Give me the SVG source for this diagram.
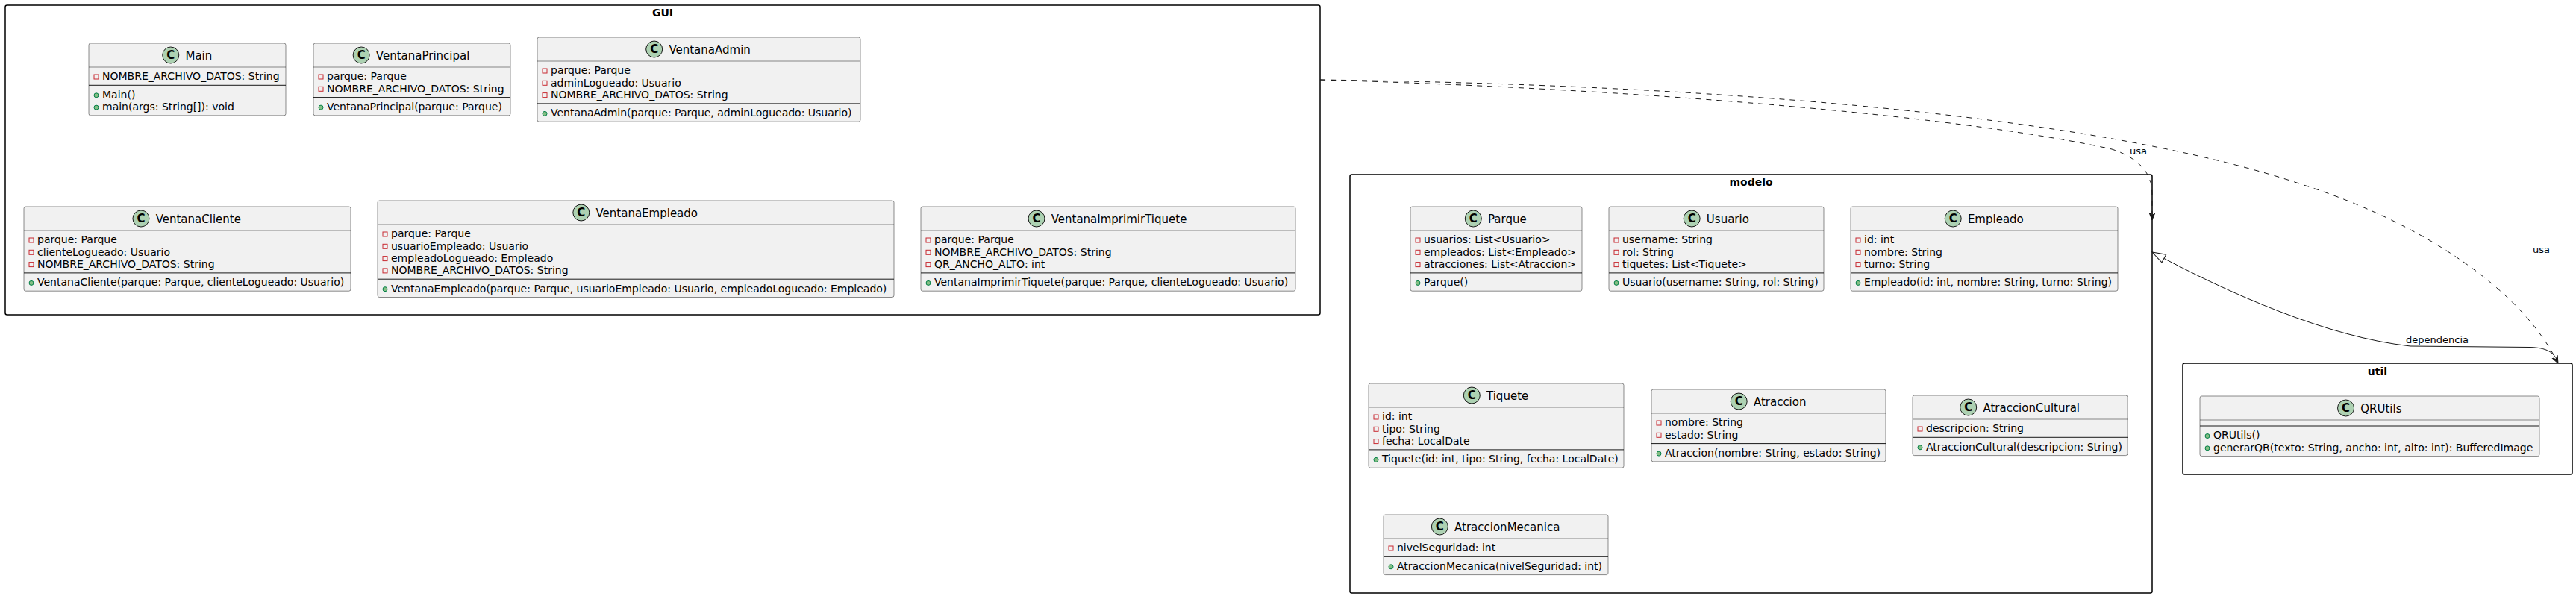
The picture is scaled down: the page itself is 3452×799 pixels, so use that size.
<svg xmlns="http://www.w3.org/2000/svg" width="3452" height="799" viewBox="0 0 3452 799">
<style>
.frame{fill:none;stroke:#000;stroke-width:1.5}
.pt{font-family:"DejaVu Sans",sans-serif;font-size:14px;font-weight:bold;text-anchor:middle;fill:#000}
.box{fill:#F1F1F1;stroke:#181818;stroke-width:0.5}
.hs{stroke:#181818;stroke-width:0.5}
.ss{stroke:#181818;stroke-width:1}
.badge{fill:#ADD1B2;stroke:#181818;stroke-width:1}
.bc{font-family:"DejaVu Sans",sans-serif;font-size:15px;font-weight:bold;text-anchor:middle;fill:#000}
.cn{font-family:"DejaVu Sans",sans-serif;font-size:15px;fill:#000}
.m{font-family:"DejaVu Sans",sans-serif;font-size:14px;fill:#000}
.pv{fill:none;stroke:#C82930;stroke-width:1}
.pb{fill:#84BE84;stroke:#038048;stroke-width:1}
.dep{fill:none;stroke:#181818;stroke-width:1;stroke-dasharray:7,7}
.gen{fill:none;stroke:#181818;stroke-width:1}
.lbl{font-family:"DejaVu Sans",sans-serif;font-size:13px;fill:#000}
</style>
<defs>
<marker id="arrow" viewBox="0 0 10 10" refX="10" refY="5" markerWidth="10" markerHeight="10" markerUnits="userSpaceOnUse" orient="auto"><path d="M10,5 L0,1 L4,5 L0,9 Z" fill="#181818" stroke="#181818" stroke-width="1"/></marker>
<marker id="tri" viewBox="0 0 20 14" refX="19" refY="7" markerWidth="20" markerHeight="14" markerUnits="userSpaceOnUse" orient="auto"><path d="M19,7 L1,1 L1,13 Z" fill="#FFFFFF" stroke="#181818" stroke-width="1"/></marker>
</defs>
<rect width="3452" height="799" fill="#FFFFFF"/>

<g id="pkg-GUI">
<rect class="frame" x="7" y="7" width="1762" height="415" rx="2.5"/>
<text class="pt" x="888" y="22">GUI</text>
</g>
<g id="pkg-modelo">
<rect class="frame" x="1809" y="234" width="1075" height="561" rx="2.5"/>
<text class="pt" x="2346.5" y="249">modelo</text>
</g>
<g id="pkg-util">
<rect class="frame" x="2925" y="487" width="522" height="149" rx="2.5"/>
<text class="pt" x="3186" y="503">util</text>
</g>

<g id="Main">
<rect class="box" x="119" y="58" width="264" height="96.9" rx="2.5"/>
<circle class="badge" cx="228.75" cy="74" r="11"/><text class="bc" x="228.75" y="79.4">C</text>
<text class="cn" x="248.45" y="79.5">Main</text>
<line class="hs" x1="119" y1="90" x2="383" y2="90"/>
<rect class="pv" x="126" y="100" width="6" height="6"/><text class="m" x="137" y="107.3">NOMBRE_ARCHIVO_DATOS: String</text>
<line class="ss" x1="119" y1="114.3" x2="383" y2="114.3"/>
<circle class="pb" cx="129" cy="127.8" r="3"/><text class="m" x="137" y="131.6">Main()</text>
<circle class="pb" cx="129" cy="144.1" r="3"/><text class="m" x="137" y="147.9">main(args: String[]): void</text>
</g>

<g id="VentanaPrincipal">
<rect class="box" x="420" y="58" width="264" height="96.9" rx="2.5"/>
<circle class="badge" cx="484.15" cy="74" r="11"/><text class="bc" x="484.15" y="79.4">C</text>
<text class="cn" x="503.85" y="79.5">VentanaPrincipal</text>
<line class="hs" x1="420" y1="90" x2="684" y2="90"/>
<rect class="pv" x="427" y="100" width="6" height="6"/><text class="m" x="438" y="107.3">parque: Parque</text>
<rect class="pv" x="427" y="116.3" width="6" height="6"/><text class="m" x="438" y="123.6">NOMBRE_ARCHIVO_DATOS: String</text>
<line class="ss" x1="420" y1="130.6" x2="684" y2="130.6"/>
<circle class="pb" cx="430" cy="144.1" r="3"/><text class="m" x="438" y="147.9">VentanaPrincipal(parque: Parque)</text>
</g>

<g id="VentanaAdmin">
<rect class="box" x="720" y="50" width="433" height="113.2" rx="2.5"/>
<circle class="badge" cx="876.7" cy="66" r="11"/><text class="bc" x="876.7" y="71.4">C</text>
<text class="cn" x="896.4" y="71.5">VentanaAdmin</text>
<line class="hs" x1="720" y1="82" x2="1153" y2="82"/>
<rect class="pv" x="727" y="92" width="6" height="6"/><text class="m" x="738" y="99.3">parque: Parque</text>
<rect class="pv" x="727" y="108.3" width="6" height="6"/><text class="m" x="738" y="115.6">adminLogueado: Usuario</text>
<rect class="pv" x="727" y="124.6" width="6" height="6"/><text class="m" x="738" y="131.9">NOMBRE_ARCHIVO_DATOS: String</text>
<line class="ss" x1="720" y1="138.9" x2="1153" y2="138.9"/>
<circle class="pb" cx="730" cy="152.4" r="3"/><text class="m" x="738" y="156.2">VentanaAdmin(parque: Parque, adminLogueado: Usuario)</text>
</g>

<g id="VentanaCliente">
<rect class="box" x="32" y="277" width="438" height="113.2" rx="2.5"/>
<circle class="badge" cx="188.95" cy="293" r="11"/><text class="bc" x="188.95" y="298.4">C</text>
<text class="cn" x="208.65" y="298.5">VentanaCliente</text>
<line class="hs" x1="32" y1="309" x2="470" y2="309"/>
<rect class="pv" x="39" y="319" width="6" height="6"/><text class="m" x="50" y="326.3">parque: Parque</text>
<rect class="pv" x="39" y="335.3" width="6" height="6"/><text class="m" x="50" y="342.6">clienteLogueado: Usuario</text>
<rect class="pv" x="39" y="351.6" width="6" height="6"/><text class="m" x="50" y="358.9">NOMBRE_ARCHIVO_DATOS: String</text>
<line class="ss" x1="32" y1="365.9" x2="470" y2="365.9"/>
<circle class="pb" cx="42" cy="379.4" r="3"/><text class="m" x="50" y="383.2">VentanaCliente(parque: Parque, clienteLogueado: Usuario)</text>
</g>

<g id="VentanaEmpleado">
<rect class="box" x="506" y="269" width="692" height="129.5" rx="2.5"/>
<circle class="badge" cx="778.8" cy="285" r="11"/><text class="bc" x="778.8" y="290.4">C</text>
<text class="cn" x="798.5" y="290.5">VentanaEmpleado</text>
<line class="hs" x1="506" y1="301" x2="1198" y2="301"/>
<rect class="pv" x="513" y="311" width="6" height="6"/><text class="m" x="524" y="318.3">parque: Parque</text>
<rect class="pv" x="513" y="327.3" width="6" height="6"/><text class="m" x="524" y="334.6">usuarioEmpleado: Usuario</text>
<rect class="pv" x="513" y="343.6" width="6" height="6"/><text class="m" x="524" y="350.9">empleadoLogueado: Empleado</text>
<rect class="pv" x="513" y="359.9" width="6" height="6"/><text class="m" x="524" y="367.2">NOMBRE_ARCHIVO_DATOS: String</text>
<line class="ss" x1="506" y1="374.2" x2="1198" y2="374.2"/>
<circle class="pb" cx="516" cy="387.7" r="3"/><text class="m" x="524" y="391.5">VentanaEmpleado(parque: Parque, usuarioEmpleado: Usuario, empleadoLogueado: Empleado)</text>
</g>

<g id="VentanaImprimirTiquete">
<rect class="box" x="1234" y="277" width="502" height="113.2" rx="2.5"/>
<circle class="badge" cx="1389" cy="293" r="11"/><text class="bc" x="1389" y="298.4">C</text>
<text class="cn" x="1408.7" y="298.5">VentanaImprimirTiquete</text>
<line class="hs" x1="1234" y1="309" x2="1736" y2="309"/>
<rect class="pv" x="1241" y="319" width="6" height="6"/><text class="m" x="1252" y="326.3">parque: Parque</text>
<rect class="pv" x="1241" y="335.3" width="6" height="6"/><text class="m" x="1252" y="342.6">NOMBRE_ARCHIVO_DATOS: String</text>
<rect class="pv" x="1241" y="351.6" width="6" height="6"/><text class="m" x="1252" y="358.9">QR_ANCHO_ALTO: int</text>
<line class="ss" x1="1234" y1="365.9" x2="1736" y2="365.9"/>
<circle class="pb" cx="1244" cy="379.4" r="3"/><text class="m" x="1252" y="383.2">VentanaImprimirTiquete(parque: Parque, clienteLogueado: Usuario)</text>
</g>

<g id="Parque">
<rect class="box" x="1890" y="277" width="230" height="113.2" rx="2.5"/>
<circle class="badge" cx="1974.3" cy="293" r="11"/><text class="bc" x="1974.3" y="298.4">C</text>
<text class="cn" x="1994" y="298.5">Parque</text>
<line class="hs" x1="1890" y1="309" x2="2120" y2="309"/>
<rect class="pv" x="1897" y="319" width="6" height="6"/><text class="m" x="1908" y="326.3">usuarios: List&lt;Usuario&gt;</text>
<rect class="pv" x="1897" y="335.3" width="6" height="6"/><text class="m" x="1908" y="342.6">empleados: List&lt;Empleado&gt;</text>
<rect class="pv" x="1897" y="351.6" width="6" height="6"/><text class="m" x="1908" y="358.9">atracciones: List&lt;Atraccion&gt;</text>
<line class="ss" x1="1890" y1="365.9" x2="2120" y2="365.9"/>
<circle class="pb" cx="1900" cy="379.4" r="3"/><text class="m" x="1908" y="383.2">Parque()</text>
</g>

<g id="Usuario">
<rect class="box" x="2156" y="277" width="288" height="113.2" rx="2.5"/>
<circle class="badge" cx="2267.15" cy="293" r="11"/><text class="bc" x="2267.15" y="298.4">C</text>
<text class="cn" x="2286.85" y="298.5">Usuario</text>
<line class="hs" x1="2156" y1="309" x2="2444" y2="309"/>
<rect class="pv" x="2163" y="319" width="6" height="6"/><text class="m" x="2174" y="326.3">username: String</text>
<rect class="pv" x="2163" y="335.3" width="6" height="6"/><text class="m" x="2174" y="342.6">rol: String</text>
<rect class="pv" x="2163" y="351.6" width="6" height="6"/><text class="m" x="2174" y="358.9">tiquetes: List&lt;Tiquete&gt;</text>
<line class="ss" x1="2156" y1="365.9" x2="2444" y2="365.9"/>
<circle class="pb" cx="2166" cy="379.4" r="3"/><text class="m" x="2174" y="383.2">Usuario(username: String, rol: String)</text>
</g>

<g id="Empleado">
<rect class="box" x="2480" y="277" width="358" height="113.2" rx="2.5"/>
<circle class="badge" cx="2617.2" cy="293" r="11"/><text class="bc" x="2617.2" y="298.4">C</text>
<text class="cn" x="2636.9" y="298.5">Empleado</text>
<line class="hs" x1="2480" y1="309" x2="2838" y2="309"/>
<rect class="pv" x="2487" y="319" width="6" height="6"/><text class="m" x="2498" y="326.3">id: int</text>
<rect class="pv" x="2487" y="335.3" width="6" height="6"/><text class="m" x="2498" y="342.6">nombre: String</text>
<rect class="pv" x="2487" y="351.6" width="6" height="6"/><text class="m" x="2498" y="358.9">turno: String</text>
<line class="ss" x1="2480" y1="365.9" x2="2838" y2="365.9"/>
<circle class="pb" cx="2490" cy="379.4" r="3"/><text class="m" x="2498" y="383.2">Empleado(id: int, nombre: String, turno: String)</text>
</g>

<g id="Tiquete">
<rect class="box" x="1834" y="514" width="342" height="113.2" rx="2.5"/>
<circle class="badge" cx="1972.3" cy="530" r="11"/><text class="bc" x="1972.3" y="535.4">C</text>
<text class="cn" x="1992" y="535.5">Tiquete</text>
<line class="hs" x1="1834" y1="546" x2="2176" y2="546"/>
<rect class="pv" x="1841" y="556" width="6" height="6"/><text class="m" x="1852" y="563.3">id: int</text>
<rect class="pv" x="1841" y="572.3" width="6" height="6"/><text class="m" x="1852" y="579.6">tipo: String</text>
<rect class="pv" x="1841" y="588.6" width="6" height="6"/><text class="m" x="1852" y="595.9">fecha: LocalDate</text>
<line class="ss" x1="1834" y1="602.9" x2="2176" y2="602.9"/>
<circle class="pb" cx="1844" cy="616.4" r="3"/><text class="m" x="1852" y="620.2">Tiquete(id: int, tipo: String, fecha: LocalDate)</text>
</g>

<g id="Atraccion">
<rect class="box" x="2213" y="522" width="314" height="96.9" rx="2.5"/>
<circle class="badge" cx="2330.2" cy="538" r="11"/><text class="bc" x="2330.2" y="543.4">C</text>
<text class="cn" x="2349.9" y="543.5">Atraccion</text>
<line class="hs" x1="2213" y1="554" x2="2527" y2="554"/>
<rect class="pv" x="2220" y="564" width="6" height="6"/><text class="m" x="2231" y="571.3">nombre: String</text>
<rect class="pv" x="2220" y="580.3" width="6" height="6"/><text class="m" x="2231" y="587.6">estado: String</text>
<line class="ss" x1="2213" y1="594.6" x2="2527" y2="594.6"/>
<circle class="pb" cx="2223" cy="608.1" r="3"/><text class="m" x="2231" y="611.9">Atraccion(nombre: String, estado: String)</text>
</g>

<g id="AtraccionCultural">
<rect class="box" x="2563" y="530" width="288" height="80.6" rx="2.5"/>
<circle class="badge" cx="2637.7" cy="546" r="11"/><text class="bc" x="2637.7" y="551.4">C</text>
<text class="cn" x="2657.4" y="551.5">AtraccionCultural</text>
<line class="hs" x1="2563" y1="562" x2="2851" y2="562"/>
<rect class="pv" x="2570" y="572" width="6" height="6"/><text class="m" x="2581" y="579.3">descripcion: String</text>
<line class="ss" x1="2563" y1="586.3" x2="2851" y2="586.3"/>
<circle class="pb" cx="2573" cy="599.8" r="3"/><text class="m" x="2581" y="603.6">AtraccionCultural(descripcion: String)</text>
</g>

<g id="AtraccionMecanica">
<rect class="box" x="1854" y="690" width="301" height="80.6" rx="2.5"/>
<circle class="badge" cx="1929.35" cy="706" r="11"/><text class="bc" x="1929.35" y="711.4">C</text>
<text class="cn" x="1949.05" y="711.5">AtraccionMecanica</text>
<line class="hs" x1="1854" y1="722" x2="2155" y2="722"/>
<rect class="pv" x="1861" y="732" width="6" height="6"/><text class="m" x="1872" y="739.3">nivelSeguridad: int</text>
<line class="ss" x1="1854" y1="746.3" x2="2155" y2="746.3"/>
<circle class="pb" cx="1864" cy="759.8" r="3"/><text class="m" x="1872" y="763.6">AtraccionMecanica(nivelSeguridad: int)</text>
</g>

<g id="QRUtils">
<rect class="box" x="2948" y="531" width="455" height="80.6" rx="2.5"/>
<circle class="badge" cx="3143.55" cy="547" r="11"/><text class="bc" x="3143.55" y="552.4">C</text>
<text class="cn" x="3163.25" y="552.5">QRUtils</text>
<line class="hs" x1="2948" y1="563" x2="3403" y2="563"/>
<line class="ss" x1="2948" y1="571" x2="3403" y2="571"/>
<circle class="pb" cx="2958" cy="584.5" r="3"/><text class="m" x="2966" y="588.3">QRUtils()</text>
<circle class="pb" cx="2958" cy="600.8" r="3"/><text class="m" x="2966" y="604.6">generarQR(texto: String, ancho: int, alto: int): BufferedImage</text>
</g>

<g id="connectors">
<path class="dep" d="M1769,107 C2250,121 2650,160 2830,200 C2870,213 2884,235 2884,260 L2884,295" marker-end="url(#arrow)"/>
<text class="lbl" x="2854" y="206.5">usa</text>
<path class="dep" d="M1769,107 C2400,115 2850,168 3084,247 C3250,300 3380,390 3428,487" marker-end="url(#arrow)"/>
<text class="lbl" x="3394" y="338.5">usa</text>
<path class="gen" d="M3428,487 C3424,472 3412,466 3390,465.5 L3230,464 C3120,452 2990,395 2884,338" marker-end="url(#tri)"/>
<text class="lbl" x="3224" y="460">dependencia</text>
</g>
</svg>
